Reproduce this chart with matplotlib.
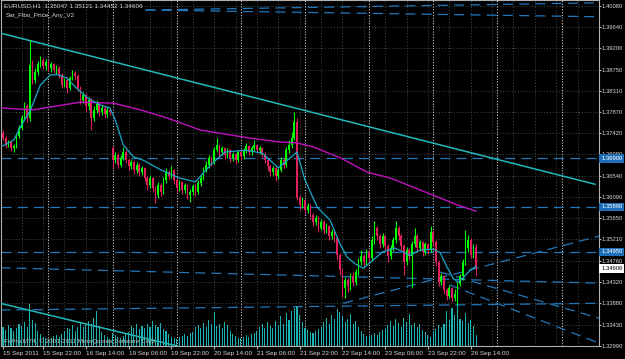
import numpy as np
import matplotlib
matplotlib.use('Agg')
from matplotlib import pyplot as plt
from matplotlib.transforms import blended_transform_factory

# EURUSD H1 candles, 15 Sep 07:00 .. 26 Sep 16:00 (bar index 0..177)
opens = [
    1.3743, 1.3732, 1.3718, 1.3724, 1.3712, 1.3716, 1.3737, 1.3753, 1.3774, 1.3799,
    1.3774, 1.3885, 1.3853, 1.3870, 1.3887, 1.3895, 1.3882, 1.3891, 1.3878, 1.3887,
    1.3874, 1.3878, 1.3864, 1.3843, 1.3853, 1.3837, 1.3857, 1.3868, 1.3862, 1.3837,
    1.3812, 1.3822, 1.3799, 1.3812, 1.3774, 1.3791, 1.3803, 1.3787, 1.3795, 1.3782,
    1.3791, 1.3712, 1.3687, 1.3697, 1.3676, 1.3691, 1.3703, 1.3687, 1.3674, 1.3682,
    1.3666, 1.3676, 1.3662, 1.3670, 1.3649, 1.3634, 1.3649, 1.3628, 1.3614, 1.3634,
    1.3620, 1.3645, 1.3662, 1.3653, 1.3666, 1.3645, 1.3628, 1.3641, 1.3624, 1.3634,
    1.3614, 1.3620, 1.3632, 1.3620, 1.3639, 1.3649, 1.3666, 1.3676, 1.3691, 1.3682,
    1.3707, 1.3718, 1.3703, 1.3712, 1.3697, 1.3707, 1.3691, 1.3699, 1.3687, 1.3703,
    1.3695, 1.3707, 1.3716, 1.3703, 1.3712, 1.3718, 1.3707, 1.3712, 1.3699, 1.3687,
    1.3674, 1.3662, 1.3670, 1.3653, 1.3666, 1.3687, 1.3676, 1.3707, 1.3718, 1.3732,
    1.3766, 1.3607, 1.3593, 1.3603, 1.3582, 1.3591, 1.3572, 1.3557, 1.3566, 1.3545,
    1.3557, 1.3541, 1.3549, 1.3528, 1.3537, 1.3524, 1.3489, 1.3457, 1.3420, 1.3437,
    1.3424, 1.3445, 1.3432, 1.3453, 1.3474, 1.3487, 1.3474, 1.3495, 1.3482, 1.3520,
    1.3545, 1.3528, 1.3512, 1.3528, 1.3507, 1.3487, 1.3503, 1.3520, 1.3545, 1.3528,
    1.3507, 1.3474, 1.3499, 1.3487, 1.3512, 1.3528, 1.3503, 1.3516, 1.3495, 1.3512,
    1.3499, 1.3537, 1.3516, 1.3474, 1.3432, 1.3445, 1.3416, 1.3403, 1.3420, 1.3399,
    1.3407, 1.3428, 1.3445, 1.3474, 1.3503, 1.3520, 1.3489, 1.35047,
]
highs = [
    1.3749, 1.3737, 1.3728, 1.3726, 1.3720, 1.3741, 1.3760, 1.3780, 1.3807, 1.3803,
    1.3937, 1.3895, 1.3878, 1.3893, 1.3903, 1.3899, 1.3897, 1.3895, 1.3891, 1.3889,
    1.3885, 1.3882, 1.3868, 1.3857, 1.3860, 1.3862, 1.3874, 1.3872, 1.3866, 1.3841,
    1.3828, 1.3826, 1.3818, 1.3816, 1.3799, 1.3812, 1.3807, 1.3801, 1.3799, 1.3797,
    1.3795, 1.3716, 1.3703, 1.3701, 1.3697, 1.3714, 1.3707, 1.3691, 1.3689, 1.3687,
    1.3682, 1.3680, 1.3674, 1.3672, 1.3653, 1.3655, 1.3651, 1.3632, 1.3641, 1.3639,
    1.3651, 1.3670, 1.3666, 1.3674, 1.3668, 1.3649, 1.3645, 1.3643, 1.3639, 1.3637,
    1.3626, 1.3637, 1.3637, 1.3645, 1.3655, 1.3672, 1.3684, 1.3697, 1.3695, 1.3714,
    1.3732, 1.3720, 1.3716, 1.3714, 1.3712, 1.3710, 1.3703, 1.3701, 1.3707, 1.3707,
    1.3712, 1.3722, 1.3718, 1.3716, 1.3728, 1.3720, 1.3716, 1.3714, 1.3703, 1.3691,
    1.3678, 1.3674, 1.3672, 1.3670, 1.3693, 1.3691, 1.3714, 1.3728, 1.3745, 1.3787,
    1.3774, 1.3614, 1.3609, 1.3605, 1.3597, 1.3595, 1.3576, 1.3572, 1.3570, 1.3564,
    1.3561, 1.3555, 1.3551, 1.3543, 1.3541, 1.3528, 1.3493, 1.3462, 1.3443, 1.3441,
    1.3451, 1.3453, 1.3459, 1.3482, 1.3499, 1.3491, 1.3501, 1.3499, 1.3528, 1.3560,
    1.3549, 1.3532, 1.3534, 1.3530, 1.3512, 1.3509, 1.3526, 1.3560, 1.3549, 1.3532,
    1.3512, 1.3505, 1.3503, 1.3518, 1.3545, 1.3532, 1.3520, 1.3518, 1.3516, 1.3514,
    1.3549, 1.3541, 1.3520, 1.3478, 1.3451, 1.3447, 1.3420, 1.3426, 1.3422, 1.3418,
    1.3432, 1.3449, 1.3480, 1.3541, 1.3530, 1.3524, 1.3512, 1.35121,
]
lows = [
    1.3728, 1.3712, 1.3714, 1.3705, 1.3703, 1.3712, 1.3732, 1.3749, 1.3770, 1.3766,
    1.3768, 1.3845, 1.3847, 1.3864, 1.3880, 1.3876, 1.3874, 1.3872, 1.3870, 1.3868,
    1.3866, 1.3857, 1.3837, 1.3839, 1.3826, 1.3832, 1.3853, 1.3853, 1.3830, 1.3803,
    1.3805, 1.3787, 1.3791, 1.3749, 1.3768, 1.3785, 1.3778, 1.3780, 1.3774, 1.3776,
    1.3780, 1.3670, 1.3680, 1.3670, 1.3672, 1.3687, 1.3680, 1.3666, 1.3668, 1.3657,
    1.3660, 1.3653, 1.3655, 1.3643, 1.3624, 1.3628, 1.3620, 1.3597, 1.3607, 1.3612,
    1.3616, 1.3639, 1.3647, 1.3649, 1.3637, 1.3620, 1.3622, 1.3616, 1.3618, 1.3605,
    1.3599, 1.3614, 1.3612, 1.3616, 1.3632, 1.3645, 1.3662, 1.3670, 1.3674, 1.3678,
    1.3703, 1.3695, 1.3697, 1.3689, 1.3691, 1.3682, 1.3684, 1.3678, 1.3682, 1.3687,
    1.3689, 1.3701, 1.3697, 1.3697, 1.3705, 1.3701, 1.3699, 1.3693, 1.3680, 1.3666,
    1.3653, 1.3655, 1.3643, 1.3647, 1.3662, 1.3670, 1.3672, 1.3701, 1.3712, 1.3728,
    1.3603, 1.3582, 1.3587, 1.3574, 1.3576, 1.3564, 1.3549, 1.3551, 1.3537, 1.3541,
    1.3532, 1.3534, 1.3520, 1.3522, 1.3516, 1.3478, 1.3447, 1.3401, 1.3399, 1.3412,
    1.3416, 1.3424, 1.3426, 1.3447, 1.3468, 1.3466, 1.3468, 1.3474, 1.3478, 1.3512,
    1.3520, 1.3503, 1.3505, 1.3499, 1.3474, 1.3480, 1.3497, 1.3514, 1.3520, 1.3499,
    1.3447, 1.3468, 1.3478, 1.3420, 1.3505, 1.3495, 1.3497, 1.3487, 1.3489, 1.3491,
    1.3495, 1.3507, 1.3466, 1.3424, 1.3426, 1.3407, 1.3395, 1.3399, 1.3391, 1.3393,
    1.3362, 1.3424, 1.3437, 1.3468, 1.3495, 1.3482, 1.3482, 1.34452,
]
closes = [
    1.3732, 1.3718, 1.3724, 1.3712, 1.3716, 1.3737, 1.3753, 1.3774, 1.3799, 1.3774,
    1.3885, 1.3853, 1.3870, 1.3887, 1.3895, 1.3882, 1.3891, 1.3878, 1.3887, 1.3874,
    1.3878, 1.3864, 1.3843, 1.3853, 1.3837, 1.3857, 1.3868, 1.3862, 1.3837, 1.3812,
    1.3822, 1.3799, 1.3812, 1.3774, 1.3791, 1.3803, 1.3787, 1.3795, 1.3782, 1.3791,
    1.3787, 1.3687, 1.3697, 1.3676, 1.3691, 1.3703, 1.3687, 1.3674, 1.3682, 1.3666,
    1.3676, 1.3662, 1.3670, 1.3649, 1.3634, 1.3649, 1.3628, 1.3614, 1.3634, 1.3620,
    1.3645, 1.3662, 1.3653, 1.3666, 1.3645, 1.3628, 1.3641, 1.3624, 1.3634, 1.3614,
    1.3620, 1.3632, 1.3620, 1.3639, 1.3649, 1.3666, 1.3676, 1.3691, 1.3682, 1.3707,
    1.3718, 1.3703, 1.3712, 1.3697, 1.3707, 1.3691, 1.3699, 1.3687, 1.3703, 1.3695,
    1.3707, 1.3716, 1.3703, 1.3712, 1.3718, 1.3707, 1.3712, 1.3699, 1.3687, 1.3674,
    1.3662, 1.3670, 1.3653, 1.3666, 1.3687, 1.3676, 1.3707, 1.3718, 1.3732, 1.3766,
    1.3607, 1.3593, 1.3603, 1.3582, 1.3591, 1.3572, 1.3557, 1.3566, 1.3545, 1.3557,
    1.3541, 1.3549, 1.3528, 1.3537, 1.3524, 1.3489, 1.3457, 1.3420, 1.3437, 1.3424,
    1.3445, 1.3432, 1.3453, 1.3474, 1.3487, 1.3474, 1.3495, 1.3482, 1.3520, 1.3545,
    1.3528, 1.3512, 1.3528, 1.3507, 1.3487, 1.3503, 1.3520, 1.3545, 1.3528, 1.3507,
    1.3474, 1.3499, 1.3487, 1.3512, 1.3528, 1.3503, 1.3516, 1.3495, 1.3512, 1.3499,
    1.3537, 1.3516, 1.3474, 1.3432, 1.3445, 1.3416, 1.3403, 1.3420, 1.3399, 1.3407,
    1.3428, 1.3445, 1.3474, 1.3503, 1.3520, 1.3489, 1.35047, 1.34606,
]
volumes = [
    3800, 3200, 4200, 3500, 3000, 3600, 4400, 3900, 4800, 3700, 8200, 5200, 4600,
    3000, 2400, 1800, 1500,
    1300, 1600, 1900, 2100, 1800, 2400, 2900,
    3600, 3300, 4100, 3000, 3700, 4500, 3800, 4200, 5000, 4400, 5600, 6800, 3900,
    2800, 2200, 1700, 1400,
    2600, 2100, 1800, 1500, 1900, 2300, 2700,
    3900, 3500, 4400, 3300, 4000, 3600, 4300, 3800, 4900, 4200, 3700, 4600, 3400,
    2900, 2300, 1800, 1500,
    1400, 1700, 2000, 2400, 1900, 2500, 2800,
    3700, 4100, 3500, 4600, 3800, 5200, 4300, 6600, 3900, 4400, 3600, 4800, 4100,
    3000, 2400, 1900, 1600,
    1500, 1800, 2100, 1700, 2300, 2600, 3000,
    3800, 4300, 3600, 4700, 4000, 3500, 4900, 4200, 5800, 4400, 6400, 5200, 6900,
    7400, 7800, 6100, 4800,
    3600, 3100, 2800, 2500, 2900, 3300, 3800,
    4800, 5600, 4300, 6100, 5400, 7200, 6600, 5900, 4700, 5300, 6200, 4400, 5000,
    3700, 3000, 2400, 2000,
    1900, 2200, 2600, 2100, 2700, 3100, 3400,
    4200, 4900, 3900, 5300, 4500, 3800, 5600, 4700, 6300, 4100, 4600, 3700, 4400,
    3200, 2700, 2100, 1800,
    2900, 3300, 4100, 3700, 4400, 6800, 5200,
    7500, 6100, 8100, 5400, 4900, 6400, 4600, 5100, 3900, 2100,
]

# moving averages (bar index, price)
ma_fast_bar = [0, 4, 6.5, 10.3, 14, 17.8, 20.7, 24, 27, 31.6, 36.4, 40, 42, 45, 48.8, 52.5,
               59, 66, 72, 77.6, 83, 90.7, 97, 103, 107.5, 110, 113, 117.6, 122.4, 126,
               128.8, 131.8, 134.8, 138.5, 142, 146.7, 152.3, 156, 161, 163.6, 166,
               168.4, 170.3, 172, 174.8, 177]
ma_fast_px = [1.3716, 1.3728, 1.3755, 1.3791, 1.3843, 1.3864, 1.3864, 1.3857, 1.3839, 1.3816,
              1.3801, 1.3795, 1.3770, 1.3718, 1.3693, 1.3686, 1.3666, 1.3649, 1.3641, 1.3676,
              1.3703, 1.3707, 1.3701, 1.3670, 1.3691, 1.3703, 1.3645, 1.3588, 1.3561, 1.3513,
              1.3484, 1.3470, 1.3461, 1.3478, 1.3495, 1.3503, 1.3488, 1.3499, 1.3501, 1.3493,
              1.3465, 1.3440, 1.3432, 1.3440, 1.3457, 1.3465]
ma_slow_bar = [-1, 11.4, 17.8, 29, 41.3, 51.4, 61.5, 73.8, 92.5, 103.7, 110, 116, 126.2,
               136.3, 144.9, 153.5, 161, 170, 177]
ma_slow_px = [1.3795, 1.3791, 1.3797, 1.3807, 1.3805, 1.3791, 1.3774, 1.3749, 1.3732, 1.3724,
              1.3722, 1.3714, 1.3691, 1.3661, 1.3649, 1.3630, 1.3613, 1.3593, 1.3580]

# trend channel (bar, price pairs)
channel_hi = ([-1, 221.5], [1.3951, 1.3636])
channel_lo = ([-1, 65.2], [1.3388, 1.3299])

# Sat_Fibo_Price_Any_V2 levels
fibo_flat = [1.36900, 1.35890, 1.34950]
fibo_lines = [
    ([-1, 223], [1.3462, 1.3430]),
    ([-1, 223], [1.3374, 1.3388]),
    ([127.3, 223], [1.3388, 1.3528]),
    ([163.6, 223], [1.3453, 1.3357]),
    ([167.3, 223], [1.3426, 1.3305]),
    ([53.3, 223], [1.3999, 1.4014]),
    ([53.3, 223], [1.3999, 1.3985]),
]

price_ticks = [1.40080, 1.39640, 1.39200, 1.38750, 1.38310, 1.37870, 1.37420, 1.36980,
               1.36540, 1.36090, 1.35650, 1.35210, 1.34760, 1.34320, 1.33880, 1.33430, 1.32990]
time_ticks = [0, 15, 31, 47, 63, 79, 95, 111, 127, 143, 159, 175]
time_labels = ['15 Sep 2011', '15 Sep 22:00', '16 Sep 14:00', '19 Sep 06:00', '19 Sep 22:00',
               '20 Sep 14:00', '21 Sep 06:00', '21 Sep 22:00', '22 Sep 14:00', '23 Sep 06:00',
               '23 Sep 22:00', '26 Sep 14:00']
day_starts = [17, 41, 65, 89, 113, 137, 161, 185, 209]
marked = [(1.36900, '#1f6fb8', 'white'), (1.35890, '#1f6fb8', 'white'),
          (1.34950, '#1f6fb8', 'white'), (1.34606, 'white', 'black')]

plt.rcParams['font.family'] = ['Liberation Sans', 'DejaVu Sans']
FS = 4.6
YFS = 4.25
TXT = '#d8d8d8'

fig = plt.figure(figsize=(6.25, 3.59), dpi=100, facecolor='black')
ax = fig.add_axes([0.5 / 625, 13 / 359, 598.5 / 625, 346 / 359], facecolor='black')
ax.set_xlim(-0.93, 223.0)
ax.set_ylim(1.3299, 1.40199)

# grid
for p in price_ticks:
    ax.axhline(p, color='#3f4d4d', lw=0.7, ls=(0, (1, 2)), zorder=0)
for b in np.arange(-1, 224, 8):
    ax.axvline(b, color='#3f4d4d', lw=0.7, ls=(0, (1, 2)), zorder=0)
for b in day_starts:
    ax.axvline(b, color='#c8c8c8', lw=0.8, ls=(0, (1, 1.5)), zorder=0.5)

# volumes
axv = ax.twinx()
axv.set_ylim(0, 68000)
axv.bar(np.arange(len(volumes)), volumes, width=0.4, color='#1fb0b0', zorder=1)
axv.set_axis_off()

# fibo lines
for p in fibo_flat:
    ax.axhline(p, color='#2277bb', lw=0.9, ls=(0, (8, 5)), zorder=2)
for xs, ys in fibo_lines:
    ax.plot(xs, ys, color='#2277bb', lw=0.9, ls=(0, (8, 5)), zorder=2)

# channel
ax.plot(*channel_hi, color='#22b8b8', lw=1.1, zorder=3)
ax.plot(*channel_lo, color='#22b8b8', lw=1.1, zorder=3)

# candles
o = np.array(opens); h = np.array(highs); l = np.array(lows); c = np.array(closes)
xb = np.arange(len(c))
col = np.where(c >= o, '#00ff00', '#e0205a')
ax.vlines(xb, l, h, colors=col, lw=0.8, zorder=4)
ax.bar(xb, np.maximum(np.abs(c - o), 0.00008), bottom=np.minimum(o, c), width=0.62,
       color=col, zorder=4)

# moving averages
ax.plot(ma_slow_bar, ma_slow_px, color='#c010c0', lw=1.0, zorder=5)
ax.plot(ma_fast_bar, ma_fast_px, color='#1aa8c8', lw=0.9, zorder=5)

# axes look
for s in ax.spines.values():
    s.set_color('#b0b0b0')
    s.set_linewidth(0.8)
ax.yaxis.tick_right()
ax.set_yticks(price_ticks)
ax.set_yticklabels([f'{p:.5f}' for p in price_ticks])
ax.tick_params(axis='y', colors='#b0b0b0', labelcolor=TXT, labelsize=YFS, length=1.5, pad=0.6)
ax.set_xticks(time_ticks)
ax.set_xticklabels(time_labels, ha='left')
ax.tick_params(axis='x', colors='#b0b0b0', labelcolor=TXT, labelsize=FS, length=2, pad=1.5)

tr = blended_transform_factory(ax.transAxes, ax.transData)
for p, bg, fg in marked:
    ax.text(1.0035, p, f'{p:.5f}', transform=tr, ha='left', va='center', fontsize=YFS,
            color=fg, zorder=10, clip_on=False,
            bbox=dict(boxstyle='square,pad=0.3', fc=bg, ec='none'))

fig.text(4 / 625, 1 - 6 / 359, 'EURUSD,H1  1.35047 1.35121 1.34452 1.34606',
         color=TXT, fontsize=FS, va='center')
fig.text(6 / 625, 1 - 15 / 359, 'Sat_Fibo_Price_Any_V2', color=TXT, fontsize=FS, va='center')
fig.text(4 / 625, 1 - 341 / 359, 'FxPro MT4, \u00a9 2001-2011 MetaQuotes Software Corp.',
         color='#c0c0c0', fontsize=FS, va='center')

fig.savefig('out.png', dpi=100, facecolor='black')
